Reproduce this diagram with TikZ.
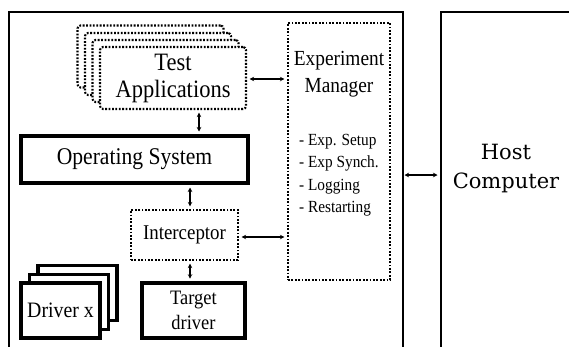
\documentclass[tikz,border=0pt]{standalone}
\usepackage{fontspec}
\setmainfont{Liberation Serif}[FakeStretch=0.9]
\newfontfamily\hostfont{DejaVu Serif}
\usepackage{tikz}
\usetikzlibrary{arrows.meta}

\tikzset{
  dotbox/.style={draw, line width=2.1pt, dash pattern=on 1.8pt off 1.6pt, fill=white, inner sep=0pt},
  solidbox/.style={draw, line width=3.6pt, fill=white, inner sep=0pt},
  biarrow/.style={{Stealth[length=4.5pt,width=4.5pt]}-{Stealth[length=4.5pt,width=4.5pt]}, line width=1.1pt, shorten <=2.5pt, shorten >=2.5pt}
}

\begin{document}
\begin{tikzpicture}[x=1pt, y=-1pt]
\useasboundingbox (0,0) rectangle (569,346);
\clip (0,0) rectangle (569,346);

% draw the two outer frames
\node[draw, line width=2pt, minimum width=394, minimum height=349, anchor=north west] (target) at (8,11) {};
\node[draw, line width=2pt, minimum width=150, minimum height=349, anchor=north west] (host) at (440,11) {};
\node[font=\hostfont\fontsize{21}{29}\selectfont, align=center] (hosttxt) at (506,169) {Host\\Computer};

% test applications, stacked
\node[dotbox, rounded corners=3pt, minimum width=146, minimum height=62] (app3) at (150.5,56.5) {};
\node[dotbox, rounded corners=3pt, minimum width=146, minimum height=62] (app2) at (158,64) {};
\node[dotbox, rounded corners=3pt, minimum width=146, minimum height=62] (app1) at (165.5,71) {};
\node[dotbox, rounded corners=3pt, minimum width=146, minimum height=62, font=\fontsize{25}{27}\selectfont, align=center] (app) at (173,78) {Test\\Applications};

% experiment manager
\node[dotbox, minimum width=102, minimum height=257] (mgr) at (339,151.5) {};
\node[font=\fontsize{21.5}{27}\selectfont, align=center] (mgrtxt) at (339,74) {Experiment\\Manager};
\node[font=\fontsize{17}{22.5}\selectfont, align=left, anchor=north west, inner sep=0pt] (tasks) at (299,134) {- Exp. Setup\\- Exp Synch.\\- Logging\\- Restarting};

% operating system and interceptor
\node[solidbox, line width=4pt, minimum width=227, minimum height=47, font=\fontsize{24}{26}\selectfont] (os) at (134.5,159.5) {Operating System};
\node[dotbox, minimum width=107, minimum height=50, font=\fontsize{21}{24}\selectfont] (intc) at (184.5,235) {Interceptor};

% drivers
\node[solidbox, minimum width=79, minimum height=55] (drv3) at (77.5,293) {};
\node[solidbox, minimum width=79, minimum height=55] (drv2) at (69,302) {};
\node[solidbox, minimum width=79, minimum height=55, font=\fontsize{22}{24}\selectfont] (drv) at (60.5,310.5) {Driver x};
\node[solidbox, minimum width=103, minimum height=55, font=\fontsize{20.5}{25}\selectfont, align=center] (tdrv) at (193.5,310.5) {Target\\driver};

% draw the connectors
\coordinate (tgtr) at (402,175);
\coordinate (hostl) at (440,175);
\draw[biarrow] ([yshift=-1]app.east) -- ([yshift=-1]app.east -| mgr.west);
\draw[biarrow] ([xshift=26]app.south) -- ([xshift=26]app.south |- os.north);
\draw[biarrow] ([xshift=5.5]intc.north) -- ([xshift=5.5]intc.north |- os.south);
\draw[biarrow] ([xshift=5.5]intc.south) -- ([xshift=5.5]intc.south |- tdrv.north);
\draw[biarrow] ([yshift=-2]intc.east) -- ([yshift=-2]intc.east -| mgr.west);
\draw[biarrow] (tgtr) -- (hostl);

\end{tikzpicture}
\end{document}
